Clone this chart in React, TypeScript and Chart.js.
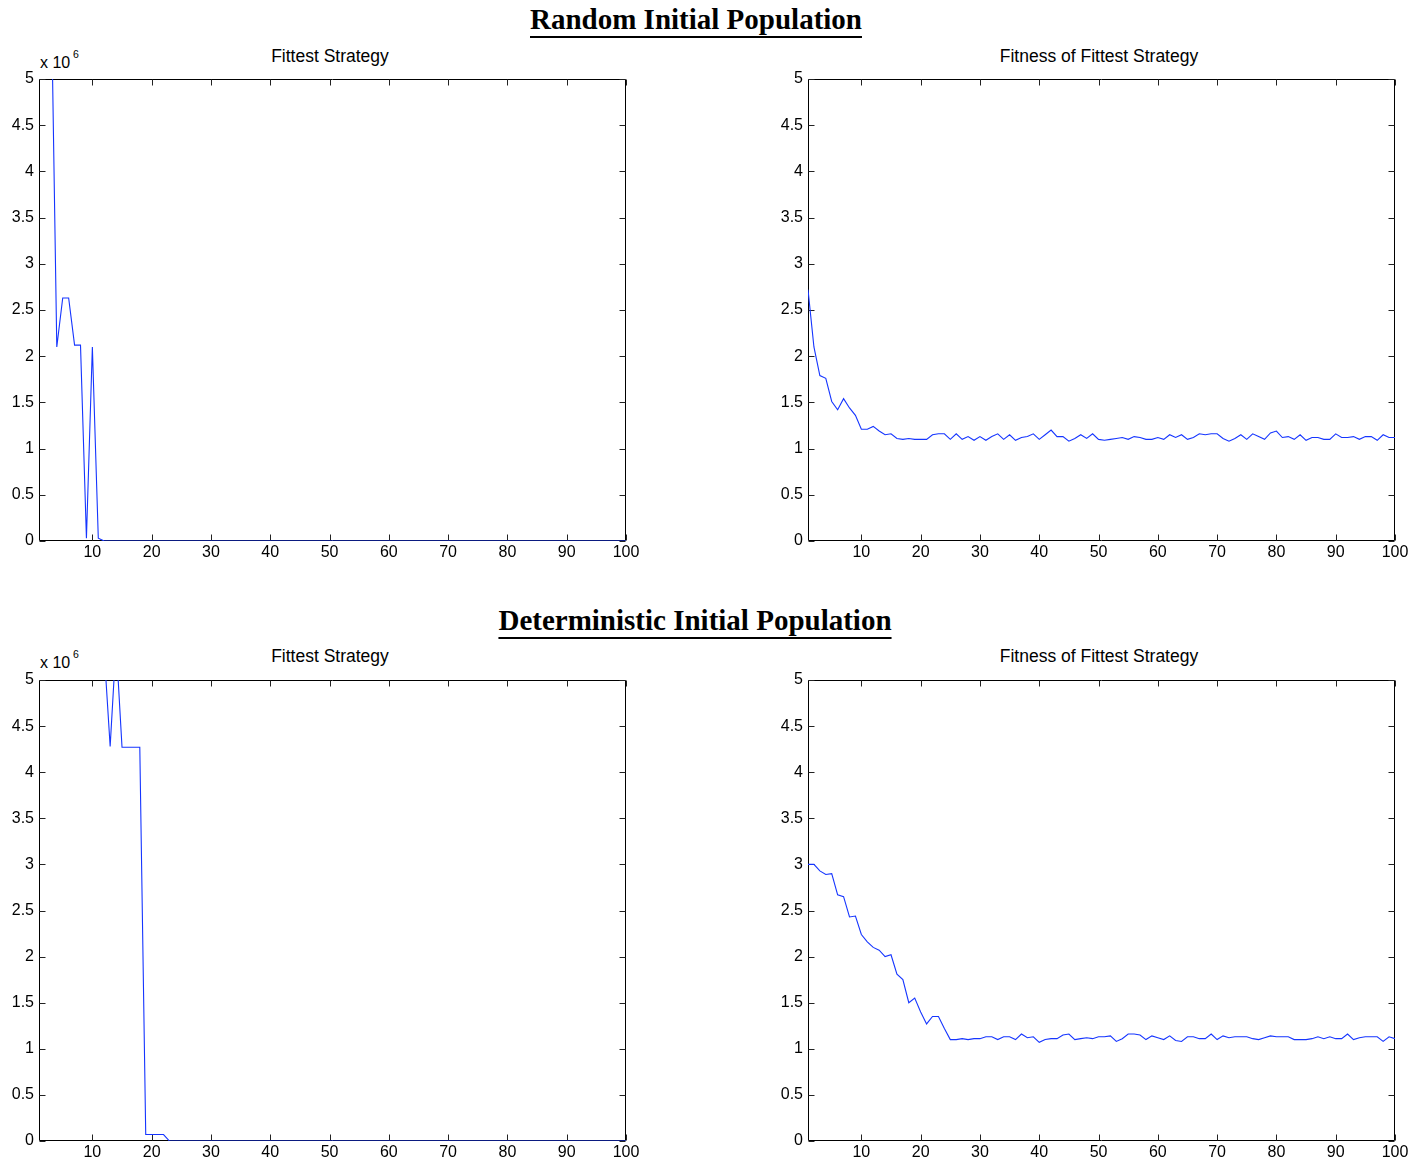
import React, { useEffect, useRef } from 'react';
import { Chart, registerables } from 'chart.js';

Chart.register(...registerables);

// ---------- data ----------
const xTickValues = [10, 20, 30, 40, 50, 60, 70, 80, 90, 100];
const yTickValues = [0, 0.5, 1, 1.5, 2, 2.5, 3, 3.5, 4, 4.5, 5];

const sectionTitles = ['Random Initial Population', 'Deterministic Initial Population'];
const panelTitles = ['Fittest Strategy', 'Fitness of Fittest Strategy'];

// Fittest strategy (x 10^6), random initial population, generations 1..100
const randomStrategy = [
  8, 7, 6.2, 2.1, 2.63, 2.63, 2.12, 2.12, 0.03, 2.1,
  0.03, 0, 0, 0, 0, 0, 0, 0, 0, 0,
  0, 0, 0, 0, 0, 0, 0, 0, 0, 0,
  0, 0, 0, 0, 0, 0, 0, 0, 0, 0,
  0, 0, 0, 0, 0, 0, 0, 0, 0, 0,
  0, 0, 0, 0, 0, 0, 0, 0, 0, 0,
  0, 0, 0, 0, 0, 0, 0, 0, 0, 0,
  0, 0, 0, 0, 0, 0, 0, 0, 0, 0,
  0, 0, 0, 0, 0, 0, 0, 0, 0, 0,
  0, 0, 0, 0, 0, 0, 0, 0, 0, 0,
];

// Fitness of fittest strategy, random initial population
const randomFitness = [
  2.72, 2.10, 1.79, 1.76, 1.51, 1.42, 1.54, 1.44, 1.36, 1.21,
  1.21, 1.24, 1.19, 1.15, 1.16, 1.11, 1.10, 1.11, 1.10, 1.10,
  1.10, 1.15, 1.16, 1.16, 1.10, 1.16, 1.10, 1.13, 1.09, 1.13,
  1.09, 1.13, 1.16, 1.10, 1.15, 1.09, 1.12, 1.13, 1.16, 1.10,
  1.15, 1.20, 1.13, 1.13, 1.08, 1.11, 1.15, 1.11, 1.16, 1.10,
  1.09, 1.10, 1.11, 1.12, 1.10, 1.13, 1.12, 1.10, 1.10, 1.12,
  1.10, 1.15, 1.12, 1.15, 1.10, 1.12, 1.16, 1.15, 1.16, 1.16,
  1.11, 1.08, 1.11, 1.15, 1.10, 1.16, 1.13, 1.10, 1.17, 1.19,
  1.12, 1.13, 1.10, 1.15, 1.09, 1.12, 1.12, 1.10, 1.10, 1.16,
  1.12, 1.12, 1.13, 1.10, 1.13, 1.13, 1.09, 1.15, 1.12, 1.12,
];

// Fittest strategy (x 10^6), deterministic initial population
const detStrategy = [
  8, 8, 8, 8, 8, 8, 8, 8, 8, 8,
  8, 5.3, 4.28, 5.4, 4.27, 4.27, 4.27, 4.27, 0.07, 0.07,
  0.07, 0.07, 0, 0, 0, 0, 0, 0, 0, 0,
  0, 0, 0, 0, 0, 0, 0, 0, 0, 0,
  0, 0, 0, 0, 0, 0, 0, 0, 0, 0,
  0, 0, 0, 0, 0, 0, 0, 0, 0, 0,
  0, 0, 0, 0, 0, 0, 0, 0, 0, 0,
  0, 0, 0, 0, 0, 0, 0, 0, 0, 0,
  0, 0, 0, 0, 0, 0, 0, 0, 0, 0,
  0, 0, 0, 0, 0, 0, 0, 0, 0, 0,
];

// Fitness of fittest strategy, deterministic initial population
const detFitness = [
  3.00, 3.00, 2.93, 2.89, 2.90, 2.67, 2.65, 2.43, 2.44, 2.24,
  2.16, 2.10, 2.07, 2.00, 2.02, 1.81, 1.75, 1.50, 1.55, 1.40,
  1.27, 1.35, 1.35, 1.22, 1.10, 1.10, 1.11, 1.10, 1.11, 1.11,
  1.13, 1.13, 1.10, 1.13, 1.13, 1.10, 1.16, 1.12, 1.13, 1.07,
  1.10, 1.11, 1.11, 1.15, 1.16, 1.10, 1.11, 1.12, 1.11, 1.13,
  1.13, 1.14, 1.08, 1.11, 1.16, 1.16, 1.15, 1.10, 1.14, 1.12,
  1.10, 1.14, 1.09, 1.08, 1.13, 1.13, 1.11, 1.11, 1.16, 1.10,
  1.14, 1.12, 1.13, 1.13, 1.13, 1.11, 1.10, 1.12, 1.14, 1.13,
  1.13, 1.13, 1.10, 1.10, 1.10, 1.11, 1.13, 1.11, 1.13, 1.11,
  1.11, 1.16, 1.10, 1.12, 1.13, 1.13, 1.13, 1.08, 1.13, 1.11,
];

// ---------- styling ----------
const SANS = '"Liberation Sans", Arial, Helvetica, sans-serif';
const SERIF = '"Liberation Serif", "Times New Roman", serif';
const LINE_COLOR = '#1535ff';
const TICK_FONT = 16;
const TICK_LEN = 6;

const boxPlugin = {
  id: 'matlabBox',
  beforeDatasetsDraw(chart: any) {
    const { ctx, chartArea: a, scales } = chart;
    const xs = scales.x;
    const ys = scales.y;
    const L = Math.round(a.left) + 0.5;
    const R = Math.round(a.right) - 0.5;
    const T = Math.round(a.top) + 0.5;
    const B = Math.round(a.bottom) - 0.5;
    ctx.save();
    ctx.strokeStyle = '#000';
    ctx.lineWidth = 1;
    ctx.beginPath();
    ctx.rect(L, T, R - L, B - T);
    ctx.stroke();
    ctx.strokeStyle = '#222';
    ctx.beginPath();
    xTickValues.forEach((v) => {
      const px = Math.round(xs.getPixelForValue(v)) + 0.5;
      ctx.moveTo(px, B);
      ctx.lineTo(px, B - TICK_LEN);
      ctx.moveTo(px, T);
      ctx.lineTo(px, T + TICK_LEN);
    });
    yTickValues.forEach((v) => {
      const py = Math.round(ys.getPixelForValue(v)) + 0.5;
      ctx.moveTo(L, py);
      ctx.lineTo(L + TICK_LEN, py);
      ctx.moveTo(R, py);
      ctx.lineTo(R - TICK_LEN, py);
    });
    ctx.stroke();
    ctx.restore();
  },
};

type Geo = {
  x: number;
  y: number;
  w: number;
  h: number;
  pad: { left: number; right: number; top: number; bottom: number };
  yAxisW: number;
  xAxisH: number;
};

function Panel({ values, geo }: { values: number[]; geo: Geo }) {
  const ref = useRef<HTMLCanvasElement>(null);
  useEffect(() => {
    if (!ref.current) return;
    const chart = new Chart(ref.current, {
      type: 'line',
      data: {
        datasets: [
          {
            data: values.map((v, i) => ({ x: i + 1, y: v })),
            borderColor: LINE_COLOR,
            borderWidth: 1.1,
            pointRadius: 0,
            tension: 0,
            fill: false,
          },
        ],
      },
      options: {
        responsive: false,
        animation: false,
        devicePixelRatio: 1,
        events: [],
        layout: { padding: geo.pad },
        plugins: {
          legend: { display: false },
          tooltip: { enabled: false },
          title: { display: false },
        },
        scales: {
          x: {
            type: 'linear',
            min: 1,
            max: 100,
            grid: { display: false, drawTicks: false },
            border: { display: false },
            afterBuildTicks: (s: any) => {
              s.ticks = xTickValues.map((v) => ({ value: v }));
            },
            afterFit: (s: any) => {
              s.height = geo.xAxisH;
            },
            ticks: {
              color: '#000',
              font: { family: SANS, size: TICK_FONT },
              padding: 2,
              maxRotation: 0,
              autoSkip: false,
              callback: (v: any) => String(v),
            },
          },
          y: {
            type: 'linear',
            min: 0,
            max: 5,
            grid: { display: false, drawTicks: false },
            border: { display: false },
            afterBuildTicks: (s: any) => {
              s.ticks = yTickValues.map((v) => ({ value: v }));
            },
            afterFit: (s: any) => {
              s.width = geo.yAxisW;
            },
            ticks: {
              color: '#000',
              font: { family: SANS, size: TICK_FONT },
              padding: 5,
              autoSkip: false,
              callback: (v: any) => String(v),
            },
          },
        },
      } as any,
      plugins: [boxPlugin],
    });
    return () => chart.destroy();
  }, []);
  return (
    <canvas
      ref={ref}
      width={geo.w}
      height={geo.h}
      style={{ position: 'absolute', left: geo.x, top: geo.y, width: geo.w, height: geo.h }}
    />
  );
}

const textBase: React.CSSProperties = {
  position: 'absolute',
  whiteSpace: 'nowrap',
  color: '#000',
};

function SectionTitle({ text, top, center }: { text: string; top: number; center: number }) {
  return (
    <div
      style={{
        ...textBase,
        left: center - 400,
        width: 800,
        top,
        textAlign: 'center',
        fontFamily: SERIF,
        fontWeight: 'bold',
        fontSize: 29,
        lineHeight: '29px',
        textDecoration: 'underline',
        textDecorationThickness: '2px',
        textUnderlineOffset: '7px',
      }}
    >
      {text}
    </div>
  );
}

function PanelTitle({ text, top, center }: { text: string; top: number; center: number }) {
  return (
    <div
      style={{
        ...textBase,
        left: center - 200,
        width: 400,
        top,
        textAlign: 'center',
        fontFamily: SANS,
        fontSize: 17.5,
        lineHeight: '17.5px',
      }}
    >
      {text}
    </div>
  );
}

function Exponent({ top }: { top: number }) {
  return (
    <>
      <div style={{ ...textBase, left: 40, top, fontFamily: SANS, fontSize: 16, lineHeight: '16px' }}>x 10</div>
      <div style={{ ...textBase, left: 73, top: top - 6, fontFamily: SANS, fontSize: 10.5, lineHeight: '10.5px' }}>6</div>
    </>
  );
}

const leftGeo = (y: number, h: number, padTop: number, padBottom: number, axisH: number): Geo => ({
  x: 0,
  y,
  w: 700,
  h,
  pad: { left: 0, right: 74, top: padTop, bottom: padBottom },
  yAxisW: 39,
  xAxisH: axisH,
});

const rightGeo = (y: number, h: number, padTop: number, padBottom: number, axisH: number): Geo => ({
  x: 760,
  y,
  w: 665,
  h,
  pad: { left: 0, right: 30, top: padTop, bottom: padBottom },
  yAxisW: 48,
  xAxisH: axisH,
});

export default function App() {
  return (
    <div
      style={{
        position: 'absolute',
        left: 0,
        top: 0,
        width: 1425,
        height: 1164,
        overflow: 'hidden',
        background: '#fff',
      }}
    >
      <SectionTitle text={sectionTitles[0]} top={5} center={696} />
      <SectionTitle text={sectionTitles[1]} top={606} center={695} />

      <PanelTitle text={panelTitles[0]} top={48} center={330} />
      <PanelTitle text={panelTitles[1]} top={48} center={1099} />
      <PanelTitle text={panelTitles[0]} top={648} center={330} />
      <PanelTitle text={panelTitles[1]} top={648} center={1099} />

      <Exponent top={55} />
      <Exponent top={655} />

      <Panel values={randomStrategy} geo={leftGeo(60, 520, 19, 14, 25)} />
      <Panel values={randomFitness} geo={rightGeo(60, 520, 19, 14, 25)} />
      <Panel values={detStrategy} geo={leftGeo(660, 504, 20, 0, 23)} />
      <Panel values={detFitness} geo={rightGeo(660, 504, 20, 0, 23)} />
    </div>
  );
}
